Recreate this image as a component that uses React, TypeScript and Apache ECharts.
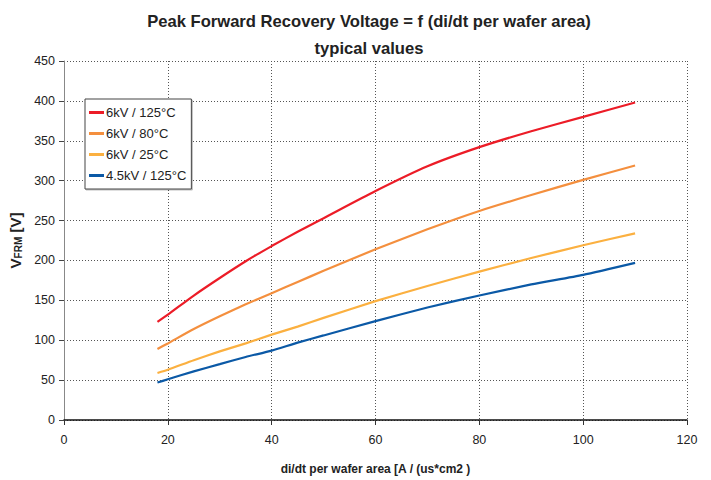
import React, { useEffect, useRef } from "react";
import * as echarts from "echarts";

const xValues = [18, 20, 25, 30, 35, 40, 45, 50, 60, 70, 80, 90, 100, 110];
const red125 = [123, 132, 156, 178, 199, 218, 236, 253, 287, 318, 342, 362, 380, 398];
const orange80 = [89, 96, 114, 130, 145, 159, 173, 187, 214, 239, 262, 282, 301, 319];
const yellow25 = [59, 63, 75, 86, 96, 107, 117, 128, 149, 168, 186, 203, 219, 234];
const blue45 = [47, 51, 61, 70, 79, 87, 97, 106, 124, 141, 156, 170, 182, 197];

const seriesNames = ["6kV / 125°C", "6kV / 80°C", "6kV / 25°C", "4.5kV / 125°C"];
const seriesColors = ["#ec1c27", "#f48f3e", "#fbb040", "#0b59a6"];
const seriesValues = [red125, orange80, yellow25, blue45];

const xTicks = { min: 0, max: 120, interval: 20 };
const yTicks = { min: 0, max: 450, interval: 50 };

const FONT = "Liberation Sans, Arial, sans-serif";

export default function App() {
  const ref = useRef<HTMLDivElement>(null);
  useEffect(() => {
    if (!ref.current) return;
    const chart = echarts.init(ref.current, undefined, { renderer: "svg" });
    chart.setOption({
      animation: false,
      backgroundColor: "#ffffff",
      textStyle: { fontFamily: FONT },
      title: {
        text: "Peak Forward Recovery Voltage = f (di/dt per wafer area)\ntypical values",
        left: 364,
        textAlign: "center",
        top: 3,
        textStyle: {
          fontFamily: FONT,
          fontSize: 16.6,
          fontWeight: "bold",
          color: "#222",
          lineHeight: 27,
        },
      },
      legend: {
        orient: "vertical",
        left: 85,
        top: 99,
        padding: [7, 5, 7, 4],
        itemGap: 8,
        itemWidth: 15,
        itemHeight: 3,
        icon: "rect",
        backgroundColor: "#fff",
        borderColor: "#444",
        borderWidth: 1,
        shadowColor: "rgba(0,0,0,0.25)",
        shadowOffsetX: 1,
        shadowOffsetY: 1,
        shadowBlur: 1,
        textStyle: { fontFamily: FONT, fontSize: 13, color: "#222", padding: [0, 0, 0, -3] },
        data: seriesNames,
      },
      grid: { left: 60, right: 24, top: 61, bottom: 57, containLabel: false },
      xAxis: {
        type: "value",
        min: xTicks.min,
        max: xTicks.max,
        interval: xTicks.interval,
        name: "di/dt per wafer area [A / (us*cm2 )",
        nameLocation: "middle",
        nameGap: 43,
        nameTextStyle: { fontFamily: FONT, fontSize: 12, fontWeight: "bold", color: "#222" },
        axisLine: { show: true, onZero: false, lineStyle: { color: "#111", width: 1.5 } },
        axisTick: { show: true, length: 5, lineStyle: { color: "#333" } },
        axisLabel: { fontFamily: FONT, fontSize: 12.5, color: "#222", margin: 13 },
        splitLine: { show: true, lineStyle: { color: "#555", type: [1, 2], width: 1 } },
      },
      yAxis: {
        type: "value",
        min: yTicks.min,
        max: yTicks.max,
        interval: yTicks.interval,
        name: "{a|V}{b|FRM}{a| [V]}",
        nameLocation: "middle",
        nameGap: 41,
        nameRotate: 90,
        nameTextStyle: {
          rich: {
            a: { fontFamily: FONT, fontSize: 15, fontWeight: "bold", color: "#222" },
            b: { fontFamily: FONT, fontSize: 10, fontWeight: "bold", color: "#222", verticalAlign: "bottom" },
          },
        },
        axisLine: { show: true, lineStyle: { color: "#888", width: 1 } },
        axisTick: { show: true, length: 5, lineStyle: { color: "#444" } },
        axisLabel: { fontFamily: FONT, fontSize: 12.5, color: "#222", margin: 9 },
        splitLine: { show: true, lineStyle: { color: "#555", type: [1, 2], width: 1 } },
      },
      series: seriesNames.map((name, i) => ({
        name,
        type: "line",
        symbol: "none",
        smooth: 0.2,
        color: seriesColors[i],
        lineStyle: { color: seriesColors[i], width: 2.2 },
        data: xValues.map((x, j) => [x, seriesValues[i][j]]),
      })),
    });
    return () => chart.dispose();
  }, []);
  return (
    <div
      ref={ref}
      style={{ position: "absolute", left: 0, top: 0, width: 711, height: 480 }}
    />
  );
}
